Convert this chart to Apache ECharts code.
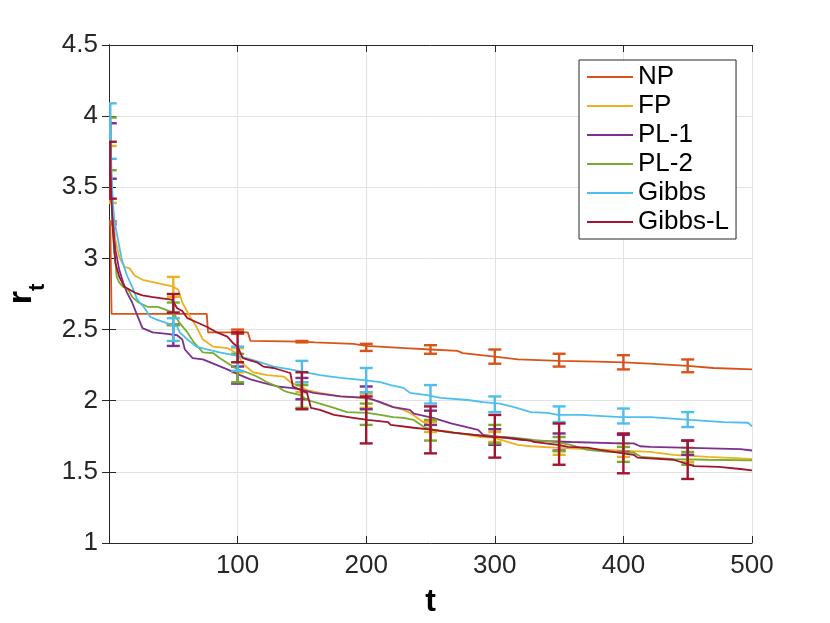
<!DOCTYPE html>
<html>
<head>
<meta charset="utf-8">
<script src="https://cdn.jsdelivr.net/npm/echarts@6/dist/echarts.min.js"></script>
<style>html,body{margin:0;padding:0;background:#fff}#c{width:830px;height:623px}</style>
</head>
<body>
<div id="c"></div>
<script>
// ---- data ----
const seriesNames = ['NP', 'FP', 'PL-1', 'PL-2', 'Gibbs', 'Gibbs-L'];
const xTicks = [100, 200, 300, 400, 500];

const npLine = [[1,3.25],[2,2.61],[76,2.61],[77,2.48],[108,2.48],[110,2.42],[150,2.415],[160,2.41],[190,2.40],[200,2.385],[230,2.37],[250,2.36],[271,2.35],[275,2.335],[300,2.31],[318,2.29],[350,2.28],[380,2.275],[400,2.27],[420,2.26],[450,2.245],[470,2.23],[500,2.22]];
const fpLine = [[1,3.6],[2,3.4],[3,3.3],[5,3.13],[8,3.01],[12,2.94],[16,2.93],[20,2.88],[26,2.85],[36,2.83],[46,2.81],[50,2.80],[54,2.78],[57,2.69],[63,2.59],[68,2.52],[73,2.43],[81,2.38],[92,2.37],[100,2.33],[104,2.26],[112,2.20],[123,2.18],[136,2.17],[141,2.13],[149,2.10],[154,2.075],[164,2.055],[180,2.03],[196,2.02],[206,2.005],[213,1.98],[221,1.955],[229,1.935],[234,1.915],[242,1.865],[248,1.83],[252,1.795],[266,1.78],[279,1.76],[289,1.745],[299,1.74],[310,1.71],[318,1.69],[328,1.68],[346,1.67],[372,1.66],[388,1.655],[408,1.645],[421,1.64],[439,1.62],[466,1.605],[491,1.595],[500,1.59]];
const pl1Line = [[1,3.76],[2,3.45],[3,3.3],[4,3.15],[5,3.06],[8,2.92],[11,2.83],[14,2.76],[18,2.69],[22,2.60],[26,2.51],[34,2.48],[45,2.47],[53,2.46],[57,2.43],[59,2.36],[65,2.30],[73,2.29],[84,2.25],[92,2.22],[102,2.18],[110,2.15],[120,2.125],[131,2.10],[141,2.09],[149,2.08],[159,2.055],[180,2.03],[201,2.02],[211,1.99],[221,1.955],[234,1.935],[237,1.91],[252,1.88],[266,1.84],[287,1.795],[291,1.76],[304,1.745],[320,1.725],[328,1.72],[359,1.71],[398,1.70],[408,1.70],[413,1.68],[421,1.675],[491,1.66],[500,1.65]];
const pl2Line = [[1,3.8],[2,3.4],[3,3.2],[4,3.05],[5,2.97],[6,2.87],[8,2.83],[11,2.80],[15,2.78],[18,2.73],[23,2.69],[30,2.66],[38,2.66],[44,2.64],[50,2.62],[55,2.545],[61,2.48],[66,2.41],[73,2.34],[81,2.335],[86,2.30],[92,2.265],[100,2.22],[107,2.20],[115,2.17],[123,2.13],[131,2.10],[136,2.07],[139,2.06],[149,2.04],[154,2.005],[164,1.98],[175,1.95],[185,1.92],[201,1.915],[211,1.90],[221,1.885],[229,1.88],[237,1.865],[245,1.815],[252,1.795],[266,1.775],[284,1.76],[304,1.745],[315,1.74],[330,1.725],[346,1.71],[359,1.69],[372,1.655],[388,1.64],[408,1.635],[414,1.605],[439,1.59],[466,1.585],[500,1.58]];
const gibbsLine = [[1,3.9],[2,3.6],[3,3.4],[4,3.28],[6,3.18],[10,2.99],[14,2.88],[19,2.78],[22,2.71],[27,2.66],[32,2.59],[37,2.57],[45,2.545],[50,2.53],[53,2.52],[55,2.48],[61,2.43],[68,2.38],[76,2.36],[86,2.34],[97,2.32],[107,2.30],[118,2.27],[128,2.24],[141,2.22],[164,2.18],[180,2.16],[198,2.145],[211,2.13],[219,2.11],[229,2.09],[234,2.055],[247,2.04],[258,2.02],[279,2.005],[291,1.99],[304,1.98],[315,1.955],[328,1.92],[341,1.915],[349,1.90],[367,1.90],[398,1.885],[421,1.885],[452,1.865],[478,1.85],[497,1.845],[500,1.82]];
const gibbsLLine = [[1,3.62],[2,3.4],[3,3.2],[5,2.97],[8,2.87],[12,2.80],[20,2.76],[26,2.74],[33,2.73],[41,2.72],[49,2.71],[53,2.65],[57,2.63],[61,2.58],[66,2.56],[76,2.52],[84,2.48],[92,2.45],[97,2.40],[100,2.38],[104,2.30],[115,2.27],[120,2.24],[128,2.23],[139,2.20],[141,2.195],[143,2.10],[154,2.055],[157,1.95],[164,1.935],[175,1.90],[190,1.88],[201,1.865],[217,1.85],[219,1.83],[237,1.81],[252,1.795],[268,1.775],[284,1.76],[299,1.745],[310,1.74],[328,1.72],[330,1.71],[349,1.69],[357,1.675],[372,1.67],[382,1.655],[396,1.635],[408,1.62],[411,1.60],[439,1.585],[455,1.54],[474,1.535],[491,1.52],[500,1.51]];

// error bars: [t, low, high]
const npErr = [[1,3.24,3.26],[100,2.47,2.50],[150,2.41,2.42],[200,2.35,2.40],[250,2.33,2.39],[300,2.26,2.36],[350,2.24,2.33],[400,2.22,2.32],[450,2.20,2.29]];
const fpErr = [[1,3.39,3.79],[50,2.73,2.87],[100,2.20,2.37],[150,2.06,2.13],[200,1.95,2.05],[250,1.78,1.85],[300,1.71,1.78],[350,1.62,1.71],[400,1.605,1.70],[450,1.57,1.67]];
const pl1Err = [[1,3.56,3.95],[50,2.385,2.535],[100,2.12,2.24],[150,2.01,2.16],[200,1.94,2.10],[250,1.83,1.93],[300,1.69,1.80],[350,1.65,1.77],[400,1.64,1.76],[450,1.62,1.72]];
const pl2Err = [[1,3.62,3.99],[50,2.53,2.69],[100,2.13,2.33],[150,1.95,2.11],[200,1.83,1.98],[250,1.72,1.865],[300,1.70,1.83],[350,1.645,1.745],[400,1.57,1.675],[450,1.55,1.64]];
const gibbsErr = [[1,3.70,4.09],[50,2.42,2.58],[100,2.21,2.38],[150,2.13,2.28],[200,2.06,2.23],[250,1.98,2.11],[300,1.92,2.03],[350,1.85,1.96],[400,1.84,1.945],[450,1.815,1.92]];
const gibbsLErr = [[1,3.42,3.82],[50,2.62,2.75],[100,2.27,2.48],[150,1.94,2.20],[200,1.70,2.03],[250,1.63,1.96],[300,1.60,1.90],[350,1.55,1.84],[400,1.49,1.77],[450,1.45,1.72]];

const lines = [npLine, fpLine, pl1Line, pl2Line, gibbsLine, gibbsLLine];
const errs = [npErr, fpErr, pl1Err, pl2Err, gibbsErr, gibbsLErr];
const colors = ['#D95319', '#EDB120', '#7E2F8E', '#77AC30', '#4DBEEE', '#A2142F'];

// ---- chart ----
const FONT = '"Liberation Sans", Arial, Helvetica, sans-serif';
const AX = '#262626';
const chart = echarts.init(document.getElementById('c'), null, {renderer: 'canvas'});

function errRender(color) {
  return function (params, api) {
    const t = api.value(0), lo = api.value(1), hi = api.value(2);
    const a = api.coord([t, lo]), b = api.coord([t, hi]);
    const w = 6.5;
    const st = {stroke: color, lineWidth: 2.4};
    return {
      type: 'group',
      children: [
        {type: 'line', shape: {x1: a[0], y1: a[1], x2: b[0], y2: b[1]}, style: st},
        {type: 'line', shape: {x1: a[0] - w, y1: a[1], x2: a[0] + w, y2: a[1]}, style: st},
        {type: 'line', shape: {x1: b[0] - w, y1: b[1], x2: b[0] + w, y2: b[1]}, style: st}
      ]
    };
  };
}

const series = [];
seriesNames.forEach((name, i) => {
  series.push({
    type: 'line', name: name, data: lines[i], showSymbol: false, symbol: 'none',
    lineStyle: {width: 1.8, color: colors[i]}, itemStyle: {color: colors[i]},
    z: 2 + i * 2, silent: true
  });
  series.push({
    type: 'custom', name: name, data: errs[i], renderItem: errRender(colors[i]),
    encode: {x: 0, y: [1, 2]}, clip: true, z: 3 + i * 2, silent: true,
    itemStyle: {color: colors[i]}
  });
});

const tickStyle = {inside: true, length: 7, lineStyle: {color: AX, width: 1}};
const lineStyleAx = {show: true, lineStyle: {color: AX, width: 1}};
const splitStyle = {show: true, lineStyle: {color: '#e2e2e2', width: 1}};

const option = {
  animation: false,
  backgroundColor: '#fff',
  grid: {left: 109, right: 78, top: 45, bottom: 80, containLabel: false, outerBoundsMode: 'none'},
  legend: {
    data: seriesNames, orient: 'vertical', left: 579, top: 60,
    backgroundColor: '#fff', borderColor: AX, borderWidth: 1,
    padding: [4, 7, 4, 8], itemGap: 3, itemWidth: 46, itemHeight: 2, icon: 'rect',
    textStyle: {fontSize: 26, color: '#000', fontFamily: FONT}
  },
  xAxis: [
    {
      type: 'value', min: 0, max: 500, interval: 100, gridIndex: 0, position: 'bottom',
      axisLine: lineStyleAx, axisTick: tickStyle, splitLine: splitStyle,
      axisLabel: {fontSize: 26, color: AX, fontFamily: FONT, margin: 10,
        formatter: v => (xTicks.indexOf(v) >= 0 ? String(v) : '')},
      name: 't', nameLocation: 'middle', nameGap: 43,
      nameTextStyle: {fontSize: 32, fontWeight: 'bold', color: '#000', fontFamily: FONT}
    },
    {
      type: 'value', min: 0, max: 500, interval: 100, gridIndex: 0, position: 'top',
      axisLine: lineStyleAx, axisTick: tickStyle, splitLine: {show: false},
      axisLabel: {show: false}
    }
  ],
  yAxis: [
    {
      type: 'value', min: 1, max: 4.5, interval: 0.5, gridIndex: 0, position: 'left',
      axisLine: lineStyleAx, axisTick: tickStyle, splitLine: splitStyle,
      axisLabel: {fontSize: 26, color: AX, fontFamily: FONT, margin: 11},
      name: '{r|r}{s|t}', nameLocation: 'middle', nameRotate: 90, nameGap: 70,
      nameTextStyle: {
        color: '#000', fontFamily: FONT,
        rich: {
          r: {fontSize: 34, fontWeight: 'bold', color: '#000', fontFamily: FONT, verticalAlign: 'bottom'},
          s: {fontSize: 22, fontWeight: 'bold', color: '#000', fontFamily: FONT, verticalAlign: 'bottom', padding: [0, 0, -10, 0]}
        }
      }
    },
    {
      type: 'value', min: 1, max: 4.5, interval: 0.5, gridIndex: 0, position: 'right',
      axisLine: lineStyleAx, axisTick: tickStyle, splitLine: {show: false},
      axisLabel: {show: false}
    }
  ],
  series: series
};
chart.setOption(option);
</script>
</body>
</html>
